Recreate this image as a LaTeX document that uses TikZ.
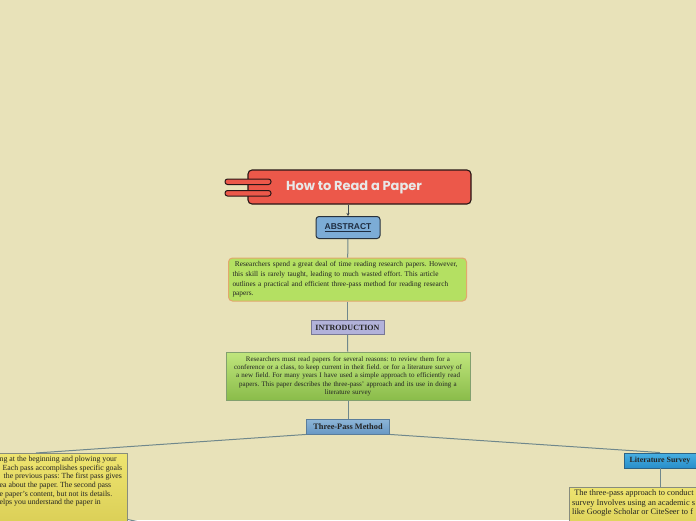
\documentclass[tikz,border=0pt]{standalone}
\usepackage{fontspec}
\setmainfont{Liberation Serif}
\newfontfamily\titlefont{Poppins}
\newfontfamily\absfont{Liberation Sans}
\usetikzlibrary{arrows.meta,calc}
\frenchspacing
\definecolor{bg}{RGB}{232,226,185}
\definecolor{titlered}{RGB}{236,88,74}
\definecolor{titleline}{RGB}{40,22,22}
\definecolor{titletext}{RGB}{232,232,232}
\definecolor{absblue}{RGB}{124,172,214}
\definecolor{absline}{RGB}{40,50,60}
\definecolor{abstext}{RGB}{30,45,65}
\definecolor{greenA}{RGB}{180,224,98}
\definecolor{orangeline}{RGB}{226,168,108}
\definecolor{introfill}{RGB}{178,178,218}
\definecolor{introline}{RGB}{120,120,150}
\definecolor{greenTop}{RGB}{192,230,125}
\definecolor{greenBot}{RGB}{138,188,74}
\definecolor{greenline}{RGB}{130,160,110}
\definecolor{tpTop}{RGB}{142,182,216}
\definecolor{tpBot}{RGB}{104,152,196}
\definecolor{tpline}{RGB}{90,125,155}
\definecolor{lsTop}{RGB}{72,176,226}
\definecolor{lsBot}{RGB}{40,142,202}
\definecolor{lsline}{RGB}{45,100,135}
\definecolor{yTop}{RGB}{238,228,112}
\definecolor{yBot}{RGB}{212,200,78}
\definecolor{yline}{RGB}{135,140,125}
\definecolor{conncol}{RGB}{112,136,140}
\definecolor{darktext}{RGB}{35,35,35}
\tikzset{
  conn/.style={draw=conncol, line width=1pt},
  titlebox/.style={draw=titleline, line width=1.1pt, fill=titlered, rounded corners=4pt,
    minimum width=223pt, minimum height=34pt, inner sep=0pt, text=titletext,
    font=\titlefont\bfseries\fontsize{13}{15}\selectfont},
  titlebar/.style={draw=titleline, line width=1pt, fill=titlered, rounded corners=2.5pt},
  absbox/.style={draw=absline, line width=1pt, fill=absblue, rounded corners=3pt,
    minimum width=64pt, minimum height=22pt, inner sep=0pt, text=abstext,
    font=\absfont\bfseries\fontsize{8.5}{10}\selectfont},
  greenone/.style={draw=orangeline, line width=1pt, fill=greenA, rounded corners=4pt,
    minimum width=238pt, minimum height=43pt, text width=230pt, inner sep=0pt, align=left,
    text=darktext, font=\fontsize{7.35}{9.6}\selectfont},
  introbox/.style={draw=introline, line width=1pt, fill=introfill,
    minimum width=73pt, minimum height=14pt, inner sep=0pt, text=darktext,
    font=\bfseries\fontsize{8}{9}\selectfont},
  greentwo/.style={draw=greenline, line width=1pt, top color=greenTop, bottom color=greenBot,
    minimum width=244pt, minimum height=48pt, text width=242pt, inner sep=0pt, align=center,
    text=darktext, font=\fontsize{7}{8.3}\selectfont},
  tpbox/.style={draw=tpline, line width=0.9pt, top color=tpTop, bottom color=tpBot,
    minimum width=83pt, minimum height=15pt, inner sep=0pt, text=darktext,
    font=\bfseries\fontsize{8.3}{9}\selectfont},
  lsbox/.style={draw=lsline, line width=0.9pt, top color=lsTop, bottom color=lsBot,
    minimum width=72pt, minimum height=15pt, inner sep=0pt, text=black!85,
    font=\bfseries\fontsize{7.9}{9}\selectfont},
  ybox/.style={draw=yline, line width=1pt, top color=yTop, bottom color=yBot,
    minimum width=182pt, inner sep=0pt},
  ytext/.style={inner sep=0pt, align=left, text=darktext, font=\fontsize{7.8}{8.6}\selectfont},
  ytextb/.style={inner sep=0pt, align=left, text=darktext, font=\fontsize{8.4}{9.7}\selectfont},
}
\begin{document}
\begin{tikzpicture}[x=1pt,y=-1pt]
\useasboundingbox (0,0) rectangle (696,520);
\fill[bg] (0,0) rectangle (696,520);
\clip (0,0) rectangle (696,520);

% coordinates of hidden children
\coordinate (offA) at (436,585);

% title
\node[titlebox] (title) at (359.5,187) {How to Read a Paper\hspace*{11pt}};
\draw[titlebar] (225,179) rectangle (271,184.5);
\draw[titlebar] (225,190.5) rectangle (271,196);

% nodes
\node[absbox] (abs) at (348,227.5) {\underline{ABSTRACT}};
\node[greenone] (g1) at (347.5,279.5) {\ Researchers spend a great deal of time reading research papers. However,\\
this skill is rarely taught, leading to much wasted effort. This article\\
outlines a practical and efficient three-pass method for reading research\\
papers.};
\node[introbox] (intro) at (347.5,327.5) {INTRODUCTION};
\node[greentwo] (g2) at (348,376) {Researchers must read papers for several reasons: to review them for a\\
conference or a class, to keep current in theit field. or for a literature survey of\\
a new field. For many years I have used a simple approach to efficiently read\\
papers. This paper describes the three-pass' approach and its use in doing a\\
literature survey};
\node[tpbox] (tp) at (348,426.5) {Three-Pass Method};
\node[lsbox] (ls) at (660,460.5) {Literature Survey};

% connectors
\draw[conn, draw=absline!90, -{Stealth[length=3pt,width=3pt]}] (title.south -| abs.north) -- (abs.north);
\draw[conn] (abs) -- (g1);
\draw[conn] (g1) -- (intro);
\draw[conn] (intro) -- (g2);
\draw[conn] (g2) -- (tp);

% left yellow box, drawn over the connector to an off-picture child
\draw[conn] (36,500) -- (offA);
\node[ybox, minimum height=94pt, anchor=north] (leftbox) at (36,453) {};
\node[ytext, anchor=north west] (lefttext) at (-0.5,456) {ng at the beginning and plowing your\\
\hspace*{3pt}Each pass accomplishes specific goals\\
\hspace*{4pt}the previous pass: The first pass gives\\
ea about the paper. The second pass\\
e paper’s content, but not its details.\\
elps you understand the paper in};

% right yellow box
\node[ybox, minimum height=60pt, anchor=north] (rightbox) at (660,487) {};
\node[ytextb, anchor=north west] (righttext) at (572,489.5) {\ The three-pass approach to conduct\\
survey Involves using an academic s\\
like Google Scholar or CiteSeer to f};

\draw[conn] (tp.south west) -- (leftbox.north);
\draw[conn] (tp.south east) -- (ls.north);
\draw[conn] (ls.south) -- (rightbox.north);
\end{tikzpicture}
\end{document}
